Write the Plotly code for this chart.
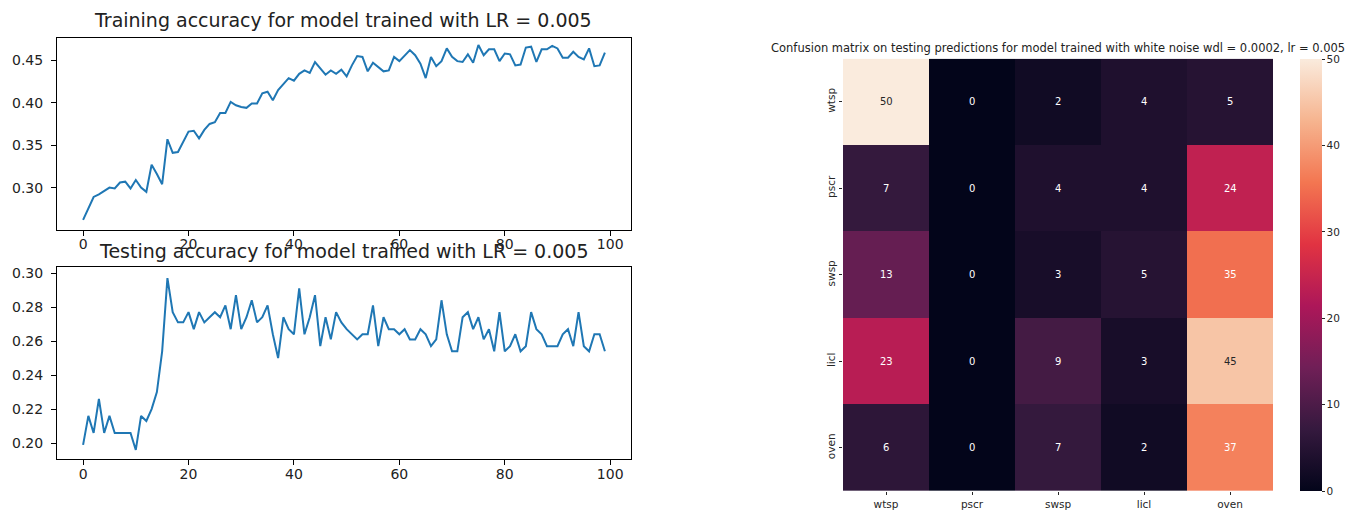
import plotly.graph_objects as go

epochs = list(range(100))

train_acc = [
    0.262, 0.276, 0.289, 0.292, 0.296, 0.300, 0.299, 0.306, 0.307, 0.299,
    0.309, 0.300, 0.295, 0.327, 0.316, 0.304, 0.357, 0.341, 0.342, 0.355,
    0.366, 0.367, 0.358, 0.368, 0.375, 0.377, 0.388, 0.388, 0.401, 0.397,
    0.395, 0.394, 0.399, 0.399, 0.411, 0.413, 0.403, 0.415, 0.422, 0.429,
    0.426, 0.434, 0.438, 0.435, 0.448, 0.440, 0.433, 0.438, 0.434, 0.439,
    0.431, 0.444, 0.455, 0.454, 0.437, 0.447, 0.442, 0.437, 0.438, 0.454,
    0.449, 0.456, 0.462, 0.456, 0.446, 0.429, 0.454, 0.443, 0.449, 0.464,
    0.454, 0.449, 0.448, 0.457, 0.447, 0.468, 0.456, 0.463, 0.463, 0.449,
    0.458, 0.457, 0.444, 0.445, 0.465, 0.466, 0.448, 0.463, 0.463, 0.467,
    0.464, 0.453, 0.453, 0.460, 0.454, 0.451, 0.464, 0.443, 0.444, 0.459,
]

test_acc = [
    0.199, 0.216, 0.206, 0.226, 0.206, 0.216, 0.206, 0.206, 0.206, 0.206,
    0.196, 0.216, 0.213, 0.220, 0.230, 0.254, 0.297, 0.277, 0.271, 0.271,
    0.277, 0.267, 0.277, 0.271, 0.274, 0.277, 0.274, 0.281, 0.267, 0.287,
    0.267, 0.274, 0.284, 0.271, 0.274, 0.281, 0.264, 0.250, 0.274, 0.267,
    0.264, 0.291, 0.264, 0.274, 0.287, 0.257, 0.274, 0.261, 0.277, 0.271,
    0.267, 0.264, 0.261, 0.264, 0.264, 0.281, 0.257, 0.274, 0.267, 0.267,
    0.264, 0.267, 0.261, 0.261, 0.267, 0.264, 0.257, 0.261, 0.284, 0.264,
    0.254, 0.254, 0.274, 0.277, 0.267, 0.274, 0.261, 0.267, 0.254, 0.277,
    0.254, 0.257, 0.264, 0.254, 0.257, 0.277, 0.267, 0.264, 0.257, 0.257,
    0.257, 0.264, 0.267, 0.257, 0.277, 0.257, 0.254, 0.264, 0.264, 0.254,
]

classes = ["wtsp", "pscr", "swsp", "licl", "oven"]
confusion = [
    [50, 0, 2, 4, 5],
    [7, 0, 4, 4, 24],
    [13, 0, 3, 5, 35],
    [23, 0, 9, 3, 45],
    [6, 0, 7, 2, 37],
]

train_title = "Training accuracy for model trained with LR = 0.005"
test_title = "Testing accuracy for model trained with LR = 0.005"
cm_title = "Confusion matrix on testing predictions for model trained with white noise wdl = 0.0002, lr = 0.005"

W, H = 1363, 510
FONT = "DejaVu Sans"

rocket = [
    [0.0, "#03051A"],
    [0.143, "#35193E"],
    [0.286, "#701F57"],
    [0.429, "#AD1759"],
    [0.571, "#E13342"],
    [0.714, "#F37651"],
    [0.857, "#F6B48F"],
    [1.0, "#FAEBDD"],
]

def px_x(p):
    return p / W

def px_y(p):
    return 1 - p / H

fig = go.Figure()

line_style = dict(color="#1f77b4", width=2)
fig.add_trace(go.Scatter(x=epochs, y=train_acc, mode="lines", line=line_style,
                         xaxis="x", yaxis="y", showlegend=False))
fig.add_trace(go.Scatter(x=epochs, y=test_acc, mode="lines", line=line_style,
                         xaxis="x2", yaxis="y2", showlegend=False))

fig.add_trace(go.Heatmap(
    z=confusion, x=classes, y=classes, xaxis="x3", yaxis="y3",
    colorscale=rocket, zmin=0, zmax=50, xgap=0, ygap=0,
    hoverinfo="skip",
    colorbar=dict(
        x=px_x(1300), xanchor="left", xpad=0, ypad=0,
        y=px_y(492), yanchor="bottom",
        len=(492 - 57) / H, lenmode="fraction",
        thickness=22, thicknessmode="pixels",
        outlinewidth=0,
        tickvals=[0, 10, 20, 30, 40, 50],
        ticks="outside", ticklen=3, tickwidth=1, tickcolor="#262626",
        tickfont=dict(family=FONT, size=10.5, color="#262626"),
    ),
))

def axis_common(is_y):
    return dict(
        showgrid=False, zeroline=False, showline=True, linecolor="black", linewidth=1,
        mirror=True, ticks="outside", ticklen=5, tickwidth=1, tickcolor="black",
        ticklabelstandoff=5 if is_y else -3,
        tickfont=dict(family=FONT, size=14, color="#222222"),
    )

left_dom = [px_x(57), px_x(631)]
annotations = []
for r, row in enumerate(confusion):
    for c, v in enumerate(row):
        annotations.append(dict(
            x=classes[c], y=classes[r], xref="x3", yref="y3", text=str(v),
            showarrow=False,
            font=dict(family=FONT, size=10, color="#262626" if v >= 40 else "white"),
        ))

annotations += [
    dict(x=px_x(343), y=px_y(18), xref="paper", yref="paper", text=train_title,
         showarrow=False, xanchor="center", yanchor="middle",
         font=dict(family=FONT, size=19, color="#222222")),
    dict(x=px_x(344), y=px_y(250), xref="paper", yref="paper", text=test_title,
         showarrow=False, xanchor="center", yanchor="middle",
         font=dict(family=FONT, size=19, color="#222222")),
    dict(x=px_x(1058), y=px_y(46), xref="paper", yref="paper", text=cm_title,
         showarrow=False, xanchor="center", yanchor="middle",
         font=dict(family=FONT, size=11.5, color="#222222")),
]

fig.update_layout(
    width=W, height=H, margin=dict(l=0, r=0, t=0, b=0),
    paper_bgcolor="white", plot_bgcolor="white",
    font=dict(family=FONT),
    xaxis=dict(domain=left_dom, anchor="y", range=[-4.95, 103.95],
               tickvals=[0, 20, 40, 60, 80, 100], **axis_common(False)),
    yaxis=dict(domain=[px_y(229), px_y(36)], anchor="x", range=[0.2505, 0.4765],
               tickvals=[0.30, 0.35, 0.40, 0.45], tickformat=".2f", **axis_common(True)),
    xaxis2=dict(domain=left_dom, anchor="y2", range=[-4.95, 103.95],
                tickvals=[0, 20, 40, 60, 80, 100], **axis_common(False)),
    yaxis2=dict(domain=[px_y(460), px_y(267)], anchor="x2", range=[0.1905, 0.3033],
                tickvals=[0.20, 0.22, 0.24, 0.26, 0.28, 0.30], tickformat=".2f", **axis_common(True)),
    xaxis3=dict(domain=[px_x(843), px_x(1273)], anchor="y3", showgrid=False,
                zeroline=False, showline=False, ticks="outside", ticklen=3,
                tickcolor="#262626", tickfont=dict(family=FONT, size=10.5, color="#262626")),
    yaxis3=dict(domain=[px_y(492), px_y(57)], anchor="x3", autorange="reversed",
                showgrid=False, zeroline=False, showline=False, ticks="outside",
                ticklen=3, tickcolor="#262626", tickangle=-90,
                tickfont=dict(family=FONT, size=10.5, color="#262626")),
    annotations=annotations,
)

fig.write_html(
    "out.html",
    config={"displayModeBar": False},
    post_script="document.body.style.margin='0';document.body.style.overflow='hidden';",
)
